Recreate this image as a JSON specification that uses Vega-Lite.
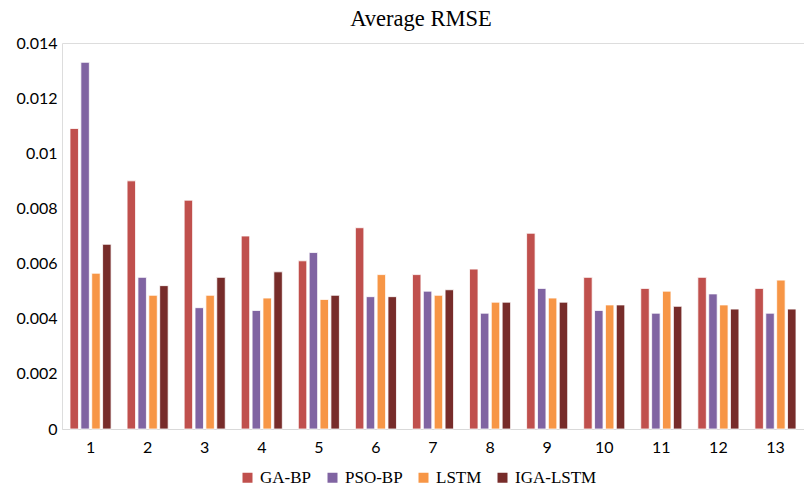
{
  "$schema": "https://vega.github.io/schema/vega-lite/v6.json",
  "autosize": "none",
  "width": 742,
  "height": 386,
  "padding": {"left": 62, "top": 43, "right": 0, "bottom": 58},
  "background": "white",
  "title": {"text": "Average RMSE", "font": "Liberation Serif", "fontSize": 22.5, "fontWeight": "normal", "color": "#000000", "anchor": "middle", "offset": 5, "dx": -12},
  "data": {"values": [
    {"g": 1, "m": "GA-BP", "v": 0.0109}, {"g": 1, "m": "PSO-BP", "v": 0.0133}, {"g": 1, "m": "LSTM", "v": 0.00565}, {"g": 1, "m": "IGA-LSTM", "v": 0.0067},
    {"g": 2, "m": "GA-BP", "v": 0.0090}, {"g": 2, "m": "PSO-BP", "v": 0.0055}, {"g": 2, "m": "LSTM", "v": 0.00485}, {"g": 2, "m": "IGA-LSTM", "v": 0.0052},
    {"g": 3, "m": "GA-BP", "v": 0.0083}, {"g": 3, "m": "PSO-BP", "v": 0.0044}, {"g": 3, "m": "LSTM", "v": 0.00485}, {"g": 3, "m": "IGA-LSTM", "v": 0.0055},
    {"g": 4, "m": "GA-BP", "v": 0.0070}, {"g": 4, "m": "PSO-BP", "v": 0.0043}, {"g": 4, "m": "LSTM", "v": 0.00475}, {"g": 4, "m": "IGA-LSTM", "v": 0.0057},
    {"g": 5, "m": "GA-BP", "v": 0.0061}, {"g": 5, "m": "PSO-BP", "v": 0.0064}, {"g": 5, "m": "LSTM", "v": 0.0047}, {"g": 5, "m": "IGA-LSTM", "v": 0.00485},
    {"g": 6, "m": "GA-BP", "v": 0.0073}, {"g": 6, "m": "PSO-BP", "v": 0.0048}, {"g": 6, "m": "LSTM", "v": 0.0056}, {"g": 6, "m": "IGA-LSTM", "v": 0.0048},
    {"g": 7, "m": "GA-BP", "v": 0.0056}, {"g": 7, "m": "PSO-BP", "v": 0.0050}, {"g": 7, "m": "LSTM", "v": 0.00485}, {"g": 7, "m": "IGA-LSTM", "v": 0.00505},
    {"g": 8, "m": "GA-BP", "v": 0.0058}, {"g": 8, "m": "PSO-BP", "v": 0.0042}, {"g": 8, "m": "LSTM", "v": 0.0046}, {"g": 8, "m": "IGA-LSTM", "v": 0.0046},
    {"g": 9, "m": "GA-BP", "v": 0.0071}, {"g": 9, "m": "PSO-BP", "v": 0.0051}, {"g": 9, "m": "LSTM", "v": 0.00475}, {"g": 9, "m": "IGA-LSTM", "v": 0.0046},
    {"g": 10, "m": "GA-BP", "v": 0.0055}, {"g": 10, "m": "PSO-BP", "v": 0.0043}, {"g": 10, "m": "LSTM", "v": 0.0045}, {"g": 10, "m": "IGA-LSTM", "v": 0.0045},
    {"g": 11, "m": "GA-BP", "v": 0.0051}, {"g": 11, "m": "PSO-BP", "v": 0.0042}, {"g": 11, "m": "LSTM", "v": 0.0050}, {"g": 11, "m": "IGA-LSTM", "v": 0.00445},
    {"g": 12, "m": "GA-BP", "v": 0.0055}, {"g": 12, "m": "PSO-BP", "v": 0.0049}, {"g": 12, "m": "LSTM", "v": 0.0045}, {"g": 12, "m": "IGA-LSTM", "v": 0.00435},
    {"g": 13, "m": "GA-BP", "v": 0.0051}, {"g": 13, "m": "PSO-BP", "v": 0.0042}, {"g": 13, "m": "LSTM", "v": 0.0054}, {"g": 13, "m": "IGA-LSTM", "v": 0.00435}
  ]},
  "mark": {"type": "bar", "stroke": "white", "strokeWidth": 0.8},
  "encoding": {
    "x": {"field": "g", "type": "ordinal", "title": null,
      "scale": {"paddingInner": 0.28, "paddingOuter": 0.14},
      "axis": {"labelAngle": 0, "ticks": false, "domainColor": "#d9d9d9", "domainWidth": 1, "labelFont": "Lato", "labelFontSize": 16, "labelColor": "#000000", "labelPadding": 10, "grid": false}},
    "xOffset": {"field": "m", "type": "nominal", "sort": ["GA-BP", "PSO-BP", "LSTM", "IGA-LSTM"], "scale": {"paddingInner": 0.22}},
    "y": {"field": "v", "type": "quantitative", "title": null,
      "scale": {"domain": [0, 0.014], "nice": false},
      "axis": {"values": [0, 0.002, 0.004, 0.006, 0.008, 0.01, 0.012, 0.014], "format": "~g", "domain": false, "ticks": false, "grid": false, "labelFont": "Lato", "labelFontSize": 16, "labelColor": "#000000", "labelPadding": 5}},
    "color": {"field": "m", "type": "nominal", "sort": ["GA-BP", "PSO-BP", "LSTM", "IGA-LSTM"],
      "scale": {"domain": ["GA-BP", "PSO-BP", "LSTM", "IGA-LSTM"], "range": ["#C0504D", "#8064A2", "#F79646", "#772C2A"]},
      "legend": {"title": null, "orient": "none", "direction": "horizontal", "legendX": 177, "legendY": 426, "symbolType": "square", "symbolSize": 100, "symbolStrokeWidth": 0, "labelFont": "Liberation Serif", "labelFontSize": 17, "labelColor": "#000000", "labelOffset": 4, "columnPadding": 12, "padding": 0}}
  }
}
